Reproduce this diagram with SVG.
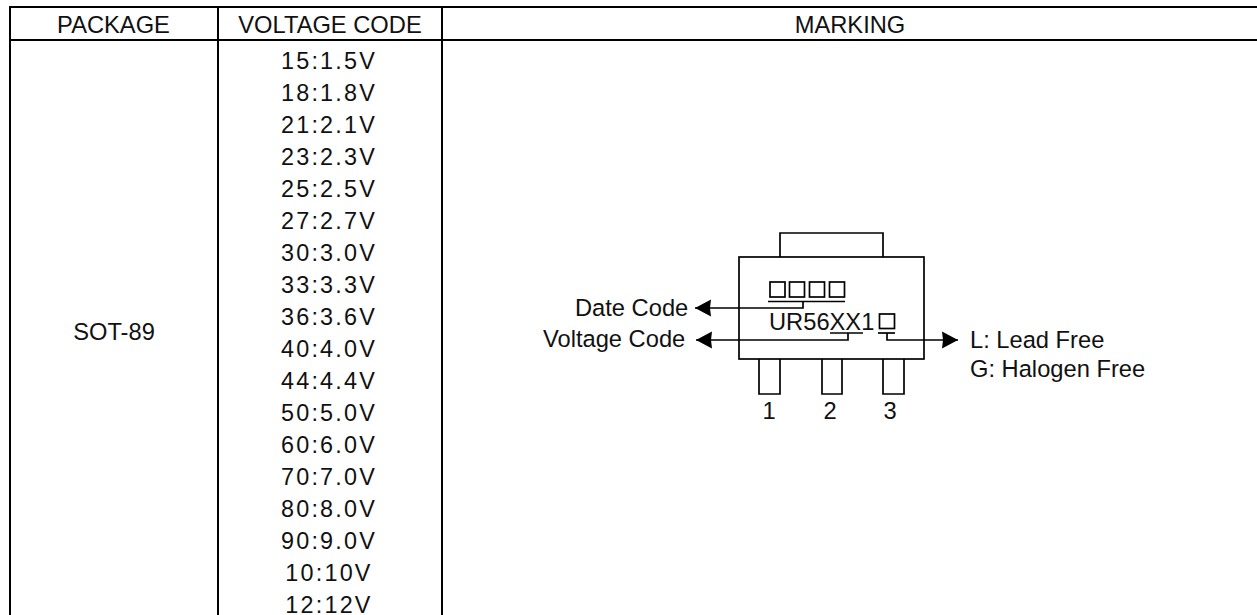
<svg xmlns="http://www.w3.org/2000/svg" width="1257" height="615" viewBox="0 0 1257 615">
<style>
text{font-family:"Liberation Sans",Arial,sans-serif;font-size:23.7px;fill:#111}
.m{text-anchor:middle}
.v{text-anchor:middle;letter-spacing:2.2px;font-size:23.4px}
.t{stroke:#000;stroke-width:2;fill:none}
.l{stroke:#000;stroke-width:1.7;fill:none}
</style>
<defs><marker id="a" markerUnits="userSpaceOnUse" markerWidth="16" markerHeight="18" refX="16" refY="9" orient="auto"><path d="M0 0.500L16 9L0 17.500L1 9Z" fill="#000"/></marker></defs>
<rect width="1257" height="615" fill="#fff"/>
<g id="table">
<path class="t" d="M10 7H1257M10 40H1257M10 6V615M218 6V615M442 6V615"/>
<text class="m" x="113.500" y="33">PACKAGE</text>
<text class="m" x="330" y="33">VOLTAGE CODE</text>
<text class="m" x="850" y="33">MARKING</text>
<text class="m" x="114" y="340">SOT-89</text>
<g class="vc">
<text class="v" x="329" y="68.500">15:1.5V</text>
<text class="v" x="329" y="100.500">18:1.8V</text>
<text class="v" x="329" y="132.500">21:2.1V</text>
<text class="v" x="329" y="164.500">23:2.3V</text>
<text class="v" x="329" y="196.500">25:2.5V</text>
<text class="v" x="329" y="228.500">27:2.7V</text>
<text class="v" x="329" y="260.500">30:3.0V</text>
<text class="v" x="329" y="292.500">33:3.3V</text>
<text class="v" x="329" y="324.500">36:3.6V</text>
<text class="v" x="329" y="356.500">40:4.0V</text>
<text class="v" x="329" y="389">44:4.4V</text>
<text class="v" x="329" y="421">50:5.0V</text>
<text class="v" x="329" y="453">60:6.0V</text>
<text class="v" x="329" y="485">70:7.0V</text>
<text class="v" x="329" y="517">80:8.0V</text>
<text class="v" x="329" y="549">90:9.0V</text>
<text class="v" x="329" y="581">10:10V</text>
<text class="v" x="329" y="613">12:12V</text>
</g>
</g>
<g id="package">
<rect class="l" x="739" y="257" width="185" height="102"/>
<path class="l" d="M780 257V233H883V257"/>
</g>
<g id="pins">
<path class="l" d="M759 359V394H780V359M822 359V394H842V359M883 359V394H904V359"/>
<text class="m" x="769" y="419">1</text><text class="m" x="830" y="419">2</text><text class="m" x="890" y="419">3</text>
</g>
<g id="marking">
<rect class="l" x="770" y="282" width="15" height="15"/><rect class="l" x="789.500" y="282" width="15" height="15"/><rect class="l" x="809.500" y="282" width="15" height="15"/><rect class="l" x="829.500" y="282" width="15" height="15"/>
<text x="769" y="330">UR56XX1</text>
<rect class="l" x="879.500" y="314" width="15" height="14.500"/>
</g>
<g id="connectors">
<path class="l" d="M768 301.500H845"/>
<path class="l" d="M803 301.500V308H695" marker-end="url(#a)"/>
<path class="l" d="M830 333H863"/>
<path class="l" d="M848 333V340H696" marker-end="url(#a)"/>
<path class="l" d="M878 333H895"/>
<path class="l" d="M887 333V340H958" marker-end="url(#a)"/>
</g>
<g id="labels">
<text x="575" y="316">Date Code</text>
<text x="543" y="347">Voltage Code</text>
<text x="970" y="348">L: Lead Free</text>
<text x="970" y="377">G: Halogen Free</text>
</g>
</svg>
